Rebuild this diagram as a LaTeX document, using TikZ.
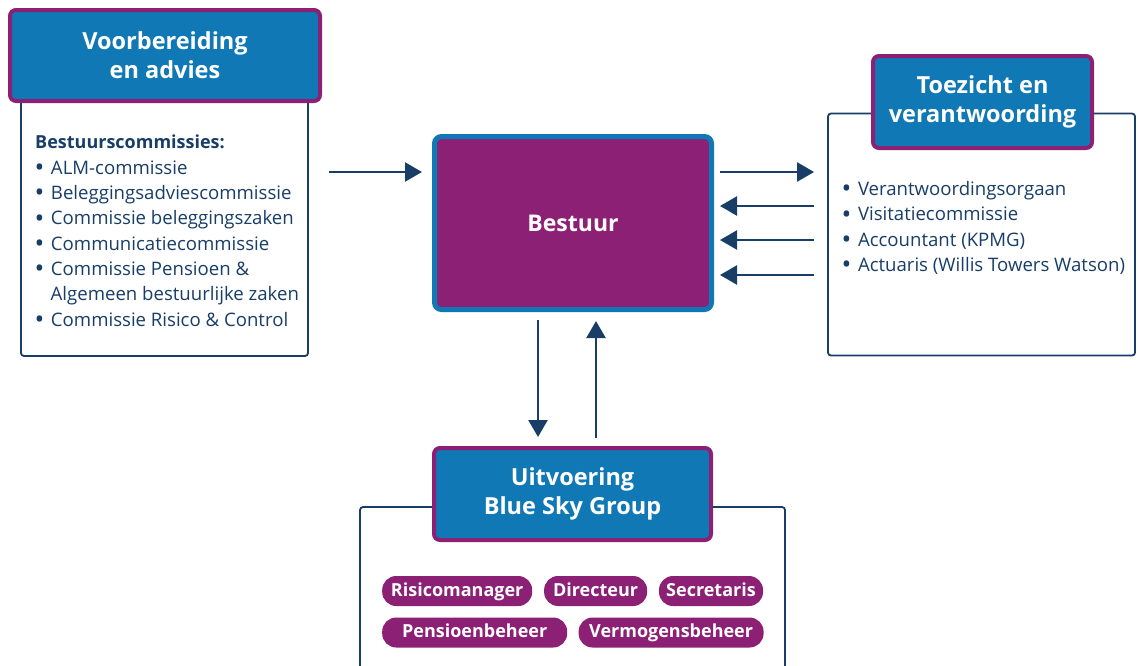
\documentclass[tikz,border=0pt]{standalone}
\usepackage{fontspec}
\setmainfont{Open Sans}
\definecolor{bsgblue}{RGB}{16,120,180}
\definecolor{bsgpurple}{RGB}{140,32,116}
\definecolor{bsgnavy}{RGB}{24,62,104}
\usetikzlibrary{arrows.meta, positioning}
\newcommand{\bsgbullet}{\raisebox{-2.2pt}{\scalebox{1.4}{\textbullet}}\hspace{6.5pt}}

\begin{document}
\begin{tikzpicture}[x=1pt, y=-1pt,
    header/.style={draw=bsgpurple, fill=bsgblue, line width=4pt, rounded corners=6pt,
      text=white, align=center, inner sep=0pt, font=\fontsize{23.5}{29}\selectfont\bfseries},
    frame/.style={draw=bsgnavy, fill=white, line width=1.8pt, rounded corners=3pt, inner sep=0pt},
    item/.style={anchor=base west, inner sep=0pt, text=bsgnavy, font=\fontsize{18.6}{25}\selectfont},
    pill/.style={fill=bsgpurple, rounded corners=14pt, minimum height=30pt, inner sep=0pt,
      text height=13pt, text depth=3pt, text=white, font=\fontsize{18}{20}\selectfont\bfseries},
    flow/.style={draw=bsgnavy, line width=2.4pt, -{Triangle[length=17pt,width=19pt]}}]
  \useasboundingbox (0,0) rectangle (1138,665);
  % Bestuur
  \node[fill=bsgpurple, draw=bsgblue, line width=5pt, rounded corners=7pt, minimum width=277pt,
    minimum height=173pt, text=white, font=\fontsize{23}{28}\selectfont\bfseries] (bestuur) at (573,223) {Bestuur};

  % frames
  \node[frame, minimum width=287pt, minimum height=300pt] (lframe) at (164.5,206) {};
  \node[frame, minimum width=307pt, minimum height=242pt] (rframe) at (981.5,234.5) {};
  \node[frame, minimum width=425pt, minimum height=200pt] (bframe) at (572.5,607) {};

  % headers
  \node[header, minimum width=310pt, minimum height=91pt] (lhead) at (165,55.5) {Voorbereiding\\en advies};
  \node[header, minimum width=219pt, minimum height=92pt] (rhead) at (982.5,102) {Toezicht en\\verantwoording};
  \node[header, minimum width=277pt, minimum height=92pt] (bhead) at (572.5,494) {Uitvoering\\Blue Sky Group};

  % lists
  \node[item, font=\fontsize{18}{25}\selectfont\bfseries] (l0) at (35,148) {Bestuurscommissies:};
  \foreach \t [count=\i] in {ALM-commissie, Beleggingsadviescommissie, Commissie beleggingszaken,
      Communicatiecommissie, Commissie Pensioen \&}
    \node[item] (l\i) at (34.5,149+25.3*\i) {\bsgbullet\t};
  \node[item] (l6) at (50.5,300.8) {Algemeen bestuurlijke zaken};
  \node[item] (l7) at (34.5,326.1) {\bsgbullet Commissie Risico \& Control};

  \foreach \t [count=\i] in {Verantwoordingsorgaan, Visitatiecommissie, Accountant (KPMG),
      Actuaris (Willis Towers Watson)}
    \node[item] (r\i) at (841.5,170.5+25.2*\i) {\bsgbullet\t};

  % Blue Sky Group
  \node[pill, minimum width=150pt, anchor=west] (risk) at (382,591) {Risicomanager};
  \node[pill, minimum width=103pt, right=11.5pt of risk] (dir) {Directeur};
  \node[pill, minimum width=104pt, right=11.5pt of dir] (secr) {Secretaris};
  \node[pill, minimum width=185pt, anchor=west] (pens) at (382,632.5) {Pensioenbeheer};
  \node[pill, minimum width=185pt, right=11pt of pens] (verm) {Vermogensbeheer};

  % arrows
  \coordinate (a1) at (0,172);
  \coordinate (a2) at (0,206);
  \coordinate (a3) at (0,240);
  \coordinate (a4) at (0,275);
  \coordinate (v1) at (538,0);
  \coordinate (v2) at (596,0);
  \draw[flow, shorten <=20pt, shorten >=10pt] (lframe.east |- a1) -- (bestuur.west |- a1);
  \draw[flow, shorten <=6pt, shorten >=13pt] (bestuur.east |- a1) -- (rframe.west |- a1);
  \foreach \a in {a2,a3,a4}
    \draw[flow, shorten <=13pt, shorten >=6pt] (rframe.west |- \a) -- (bestuur.east |- \a);
  \draw[flow, shorten <=8pt, shorten >=9pt] (bestuur.south -| v1) -- (bhead.north -| v1);
  \draw[flow, shorten <=8pt, shorten >=9pt] (bhead.north -| v2) -- (bestuur.south -| v2);
\end{tikzpicture}
\end{document}
